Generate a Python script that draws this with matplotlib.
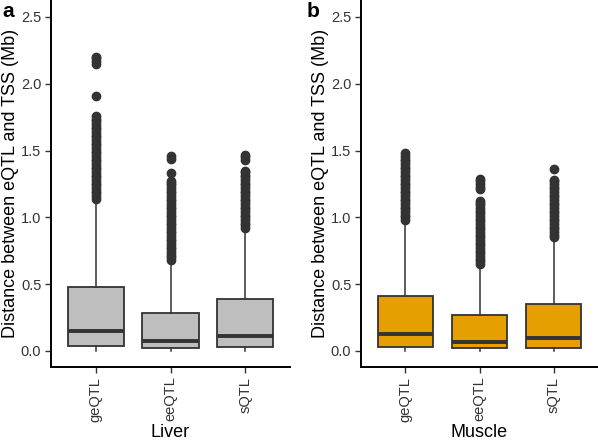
import matplotlib.pyplot as plt

plt.rcParams['font.family'] = ['Liberation Sans', 'DejaVu Sans']

categories = ["geQTL", "eeQTL", "sQTL"]
panels = ["Liver", "Muscle"]
panel_letters = ["a", "b"]
fill_colors = ["#BEBEBE", "#E69F00"]

# box stats per panel: q1, median, q3, lower whisker, upper whisker
liver_q1 = [0.037, 0.025, 0.030]
liver_med = [0.150, 0.075, 0.115]
liver_q3 = [0.480, 0.285, 0.390]
liver_lo = [0.0, 0.0, 0.0]
liver_hi = [1.13, 0.66, 0.90]

muscle_q1 = [0.030, 0.020, 0.025]
muscle_med = [0.125, 0.070, 0.100]
muscle_q3 = [0.410, 0.270, 0.350]
muscle_lo = [0.0, 0.0, 0.0]
muscle_hi = [0.965, 0.63, 0.83]

# outliers (dense runs appear as solid bars)
liver_geqtl_out = [1.14, 1.16, 1.18, 1.20, 1.22, 1.24, 1.26, 1.28, 1.30, 1.32, 1.34,
                   1.36, 1.38, 1.40, 1.42, 1.44, 1.46, 1.48, 1.50, 1.52, 1.54, 1.56,
                   1.58, 1.60, 1.62, 1.64, 1.66, 1.68, 1.70, 1.72, 1.74, 1.76,
                   1.91, 2.15, 2.17, 2.19, 2.20]
liver_eeqtl_out = [0.68, 0.70, 0.72, 0.74, 0.76, 0.78, 0.80, 0.82, 0.84, 0.86, 0.88,
                   0.90, 0.92, 0.94, 0.96, 0.98, 1.00, 1.02, 1.04, 1.06, 1.08, 1.10,
                   1.12, 1.14, 1.16, 1.18, 1.20, 1.22, 1.24, 1.26, 1.27,
                   1.33, 1.44, 1.46]
liver_sqtl_out = [0.92, 0.94, 0.96, 0.98, 1.00, 1.02, 1.04, 1.06, 1.08, 1.10, 1.12,
                  1.14, 1.16, 1.18, 1.20, 1.22, 1.24, 1.26, 1.28, 1.30, 1.32, 1.34,
                  1.35, 1.43, 1.45, 1.47]
muscle_geqtl_out = [0.98, 1.00, 1.02, 1.04, 1.06, 1.08, 1.10, 1.12, 1.14, 1.16, 1.18,
                    1.20, 1.22, 1.24, 1.26, 1.28, 1.30, 1.32, 1.34, 1.36, 1.38, 1.40,
                    1.42, 1.44, 1.46, 1.48]
muscle_eeqtl_out = [0.65, 0.67, 0.69, 0.71, 0.73, 0.75, 0.77, 0.79, 0.81, 0.83, 0.85,
                    0.87, 0.89, 0.91, 0.93, 0.95, 0.97, 0.99, 1.01, 1.03, 1.05, 1.07,
                    1.09, 1.11, 1.12, 1.21, 1.23, 1.25, 1.27, 1.29]
muscle_sqtl_out = [0.85, 0.87, 0.89, 0.91, 0.93, 0.95, 0.97, 0.99, 1.01, 1.03, 1.05,
                   1.07, 1.09, 1.11, 1.13, 1.15, 1.17, 1.19, 1.21, 1.23, 1.25, 1.27,
                   1.28, 1.36]

panel_stats = [
    (liver_q1, liver_med, liver_q3, liver_lo, liver_hi,
     [liver_geqtl_out, liver_eeqtl_out, liver_sqtl_out]),
    (muscle_q1, muscle_med, muscle_q3, muscle_lo, muscle_hi,
     [muscle_geqtl_out, muscle_eeqtl_out, muscle_sqtl_out]),
]

dark = "#333333"

fig = plt.figure(figsize=(5.98, 4.40), dpi=100)
ax_rects = [[51/598, 73/440, 239/598, 367/440],
            [361/598, 73/440, 237/598, 367/440]]

for i in range(2):
    q1, med, q3, lo, hi, outs = panel_stats[i]
    ax = fig.add_axes(ax_rects[i])
    stats = []
    for j, cat in enumerate(categories):
        stats.append(dict(label=cat, q1=q1[j], med=med[j], q3=q3[j],
                          whislo=lo[j], whishi=hi[j], fliers=outs[j]))
    ax.bxp(stats, positions=[1, 2, 3], widths=0.75, patch_artist=True,
           showcaps=False,
           boxprops=dict(facecolor=fill_colors[i], edgecolor=dark, linewidth=1.3),
           medianprops=dict(color=dark, linewidth=2.8, solid_capstyle='butt'),
           whiskerprops=dict(color=dark, linewidth=1.1),
           flierprops=dict(marker='o', markersize=6, markerfacecolor=dark,
                           markeredgecolor=dark, linestyle='none'))
    ax.set_xlim(0.4, 3.6)
    ax.set_ylim(-0.12, 2.627)
    ax.set_yticks([0.0, 0.5, 1.0, 1.5, 2.0, 2.5])
    ax.set_yticklabels(["0.0", "0.5", "1.0", "1.5", "2.0", "2.5"])
    ax.set_xticks([1, 2, 3])
    ax.set_xticklabels(categories, rotation=90)
    ax.tick_params(axis='both', direction='out', length=4, width=1.0,
                   color=dark, labelcolor="#333333", labelsize=10.5, pad=3)
    for side in ['top', 'right']:
        ax.spines[side].set_visible(False)
    for side in ['left', 'bottom']:
        ax.spines[side].set_linewidth(1.4)
        ax.spines[side].set_color("black")
    ax.set_ylabel("Distance between eQTL and TSS (Mb)", fontsize=13)
    ax.yaxis.set_label_coords(-0.135, 0.5)
    ax.set_xlabel(panels[i], fontsize=13, labelpad=2)

fig.text(2/598, 1 - 2/440, "a", fontsize=15, fontweight='bold', ha='left', va='top')
fig.text(307/598, 1 - 2/440, "b", fontsize=15, fontweight='bold', ha='left', va='top')

fig.savefig("out.png", dpi=100)
